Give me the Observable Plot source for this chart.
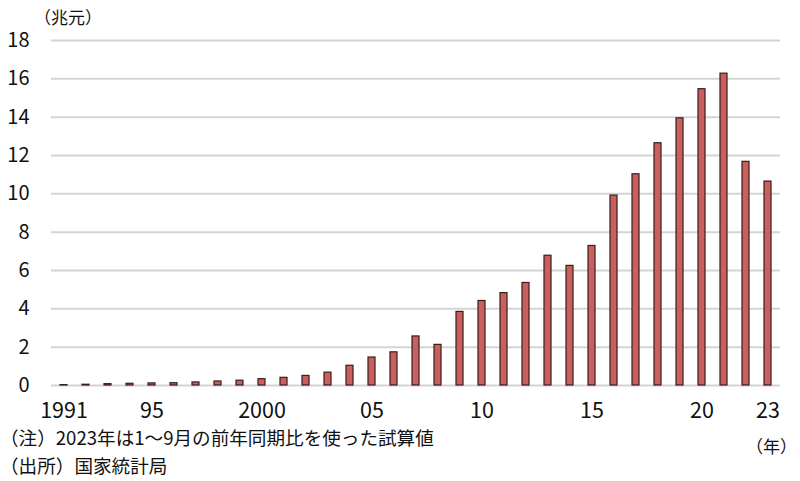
<!DOCTYPE html>
<html>
<head>
<meta charset="utf-8">
<script src="https://cdn.jsdelivr.net/npm/d3@7"></script>
<script src="https://cdn.jsdelivr.net/npm/@observablehq/plot@0.6"></script>
<style>
  html, body { margin: 0; padding: 0; background: #fff; }
  #wrap { position: relative; width: 800px; height: 481px; font-family: "Noto Sans CJK JP", "Noto Sans", sans-serif; color: #111; }
  #ylab { position: absolute; left: 34px; top: 4px; font-size: 17px; }
  #note1 { position: absolute; left: 0px; top: 423px; font-size: 18.6px; }
  #note2 { position: absolute; left: 0px; top: 451px; font-size: 18.6px; }
  #xunit { position: absolute; left: 746px; top: 433px; font-size: 17px; }
</style>
</head>
<body>
<div id="wrap">
  <div id="chart"></div>
  <div id="ylab">（兆元）</div>
  <div id="xunit">（年）</div>
  <div id="note1">（注）2023年は1～9月の前年同期比を使った試算値</div>
  <div id="note2">（出所）国家統計局</div>
</div>
<script>
const years = [1991,1992,1993,1994,1995,1996,1997,1998,1999,2000,2001,2002,2003,2004,2005,2006,2007,2008,2009,2010,2011,2012,2013,2014,2015,2016,2017,2018,2019,2020,2021,2022,2023];
const values = [0.02,0.04,0.07,0.09,0.11,0.12,0.16,0.21,0.25,0.33,0.40,0.50,0.67,1.03,1.46,1.73,2.56,2.12,3.84,4.41,4.82,5.35,6.77,6.24,7.28,9.91,11.02,12.64,13.94,15.46,16.27,11.67,10.64];
const xTickYears = [1991,1995,2000,2005,2010,2015,2020,2023];
const xTickLabels = ["1991","95","2000","05","10","15","20","23"];
const yTicks = [0,2,4,6,8,10,12,14,16,18];

const data = years.map((y, i) => ({year: y, value: values[i]}));
const labelOf = new Map(xTickYears.map((y, i) => [y, xTickLabels[i]]));

const chart = Plot.plot({
  width: 800,
  height: 425,
  marginTop: 40,
  marginBottom: 40,
  marginLeft: 51,
  marginRight: 20,
  style: {fontFamily: "'Noto Sans CJK JP', 'Noto Sans', sans-serif", fontSize: "20px", color: "#111", background: "#fff"},
  x: {type: "band", domain: years, paddingInner: 0.68, paddingOuter: 0.34, label: null},
  y: {domain: [0, 18], label: null},
  marks: [
    Plot.ruleY(yTicks, {stroke: "#d4d4d4", strokeWidth: 2}),
    Plot.barY(data, {x: "year", y: "value", fill: "#c8605e", stroke: "#3a1c1c", strokeWidth: 1.2}),
    Plot.axisY({ticks: yTicks, tickSize: 0, tickPadding: 22, fontSize: 20, label: null}),
    Plot.axisX({ticks: xTickYears, tickFormat: d => labelOf.get(d), tickSize: 0, tickPadding: 17, fontSize: 21.5, label: null})
  ]
});
document.getElementById("chart").appendChild(chart);
</script>
</body>
</html>
